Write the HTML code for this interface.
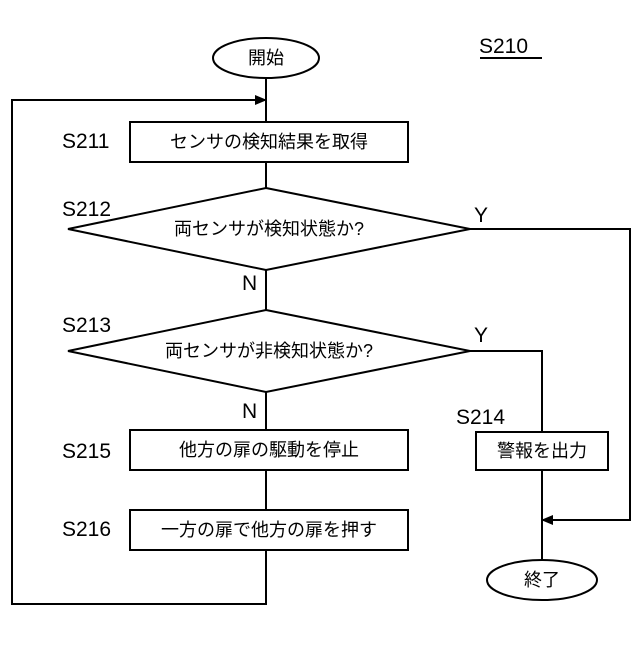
<!DOCTYPE html>
<html><head><meta charset="utf-8"><style>body{margin:0;background:#fff}</style></head>
<body>
<svg width="640" height="640" viewBox="0 0 640 640" xmlns="http://www.w3.org/2000/svg" font-family="'Liberation Sans','Noto Sans CJK JP',sans-serif">
<defs><marker id="a" markerWidth="12" markerHeight="10" refX="11" refY="5" orient="auto" markerUnits="userSpaceOnUse"><path d="M0,0 L12,5 L0,10 Z" fill="#000"/></marker></defs>
<g fill="none" stroke="#000" stroke-width="2">
<ellipse cx="266" cy="58" rx="53" ry="20" fill="#fff"/>
<line x1="266" y1="78" x2="266" y2="122"/>
<polyline points="266,548 266,604 12,604 12,100 266,100" marker-end="url(#a)"/>
<rect x="130" y="122" width="278" height="40" fill="#fff"/>
<line x1="266" y1="162" x2="266" y2="188"/>
<polygon points="266,188 470,229 266,270 68,229" fill="#fff"/>
<line x1="266" y1="270" x2="266" y2="310"/>
<polygon points="266,310 470,351 266,392 68,351" fill="#fff"/>
<line x1="266" y1="392" x2="266" y2="430"/>
<rect x="130" y="430" width="278" height="40" fill="#fff"/>
<line x1="266" y1="470" x2="266" y2="510"/>
<rect x="130" y="510" width="278" height="40" fill="#fff"/>
<polyline points="470,229 630,229 630,520 542,520" marker-end="url(#a)"/>
<polyline points="470,351 542,351 542,432"/>
<rect x="476" y="432" width="132" height="38" fill="#fff"/>
<line x1="542" y1="470" x2="542" y2="560"/>
<ellipse cx="542" cy="580" rx="55" ry="20" fill="#fff"/>
<line x1="480" y1="58" x2="542" y2="58"/>
</g>
<g font-size="18" text-anchor="middle" fill="#000">
<text x="266" y="64">開始</text>
<text x="269" y="148">センサの検知結果を取得</text>
<text x="269" y="235">両センサが検知状態か?</text>
<text x="269" y="357">両センサが非検知状態か?</text>
<text x="269" y="456">他方の扉の駆動を停止</text>
<text x="269" y="536">一方の扉で他方の扉を押す</text>
<text x="542" y="457">警報を出力</text>
<text x="542" y="586">終了</text>
</g>
<g font-size="21" fill="#000">
<text x="479" y="53">S210</text>
<text x="62" y="148">S211</text>
<text x="62" y="216">S212</text>
<text x="62" y="332">S213</text>
<text x="456" y="424">S214</text>
<text x="62" y="458">S215</text>
<text x="62" y="536">S216</text>
<text x="474" y="222">Y</text>
<text x="474" y="342">Y</text>
<text x="242" y="290">N</text>
<text x="242" y="418">N</text>
</g>
</svg>
</body></html>
